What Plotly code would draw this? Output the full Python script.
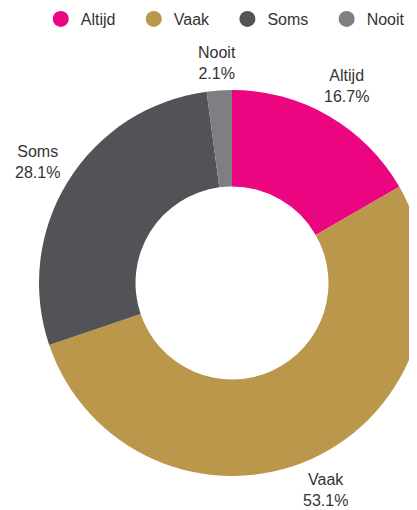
import math
import plotly.graph_objects as go

categories = ["Altijd", "Vaak", "Soms", "Nooit"]
values = [16.7, 53.1, 28.1, 2.1]
colors = ["#EC0580", "#BA974A", "#525357", "#7E7F83"]

W, H = 417, 510
ML, MR, MT, MB = 31, 0, 82, 42

fig = go.Figure()
fig.add_trace(go.Pie(
    labels=categories,
    values=values,
    hole=0.5,
    sort=False,
    direction="clockwise",
    rotation=0,
    marker=dict(colors=colors, line=dict(width=0)),
    textinfo="none",
    showlegend=False,
    hoverinfo="label+percent",
))

pad = "\u00a0" * 3
for i, (c, col) in enumerate(zip(categories, colors)):
    fig.add_trace(go.Scatter(
        x=[None], y=[None], mode="markers",
        name=c + (pad if i < len(categories) - 1 else ""),
        marker=dict(symbol="circle", size=16, color=col),
        showlegend=True,
    ))

# outside labels placed at each slice's mid-angle, just clear of the ring
pw, ph = W - ML - MR, H - MT - MB
side = min(pw, ph)
r = side / 2
cx, cy = ML + pw / 2, MT + ph / 2
total = sum(values)
cum = 0.0
annotations = []
hw, hh = 23, 20
for c, v in zip(categories, values):
    mid = (cum + v / 2) / total * 2 * math.pi
    cum += v
    sx, sy = math.sin(mid), -math.cos(mid)
    d = r + 6 + hw * abs(sx) + hh * abs(sy)
    fx, fy = cx + d * sx, cy + d * sy
    annotations.append(dict(
        x=(fx - ML) / pw, y=1 - (fy - MT) / ph,
        xref="paper", yref="paper",
        xanchor="center", yanchor="middle",
        text=f"{c}<br>{v / total * 100:.1f}%",
        showarrow=False,
        font=dict(size=16, color="#333333"),
    ))

fig.update_layout(
    width=W, height=H,
    margin=dict(l=ML, r=MR, t=MT, b=MB),
    paper_bgcolor="white",
    plot_bgcolor="white",
    font=dict(family="Liberation Sans, Arial, sans-serif", size=16, color="#333333"),
    xaxis=dict(visible=False),
    yaxis=dict(visible=False),
    annotations=annotations,
    legend=dict(
        orientation="h",
        xref="container", yref="container",
        x=0.521, xanchor="center",
        y=1 - 11 / H, yanchor="middle",
        font=dict(size=16, color="#333333"),
        itemsizing="trace",
    ),
)

fig.write_html("out.html")
